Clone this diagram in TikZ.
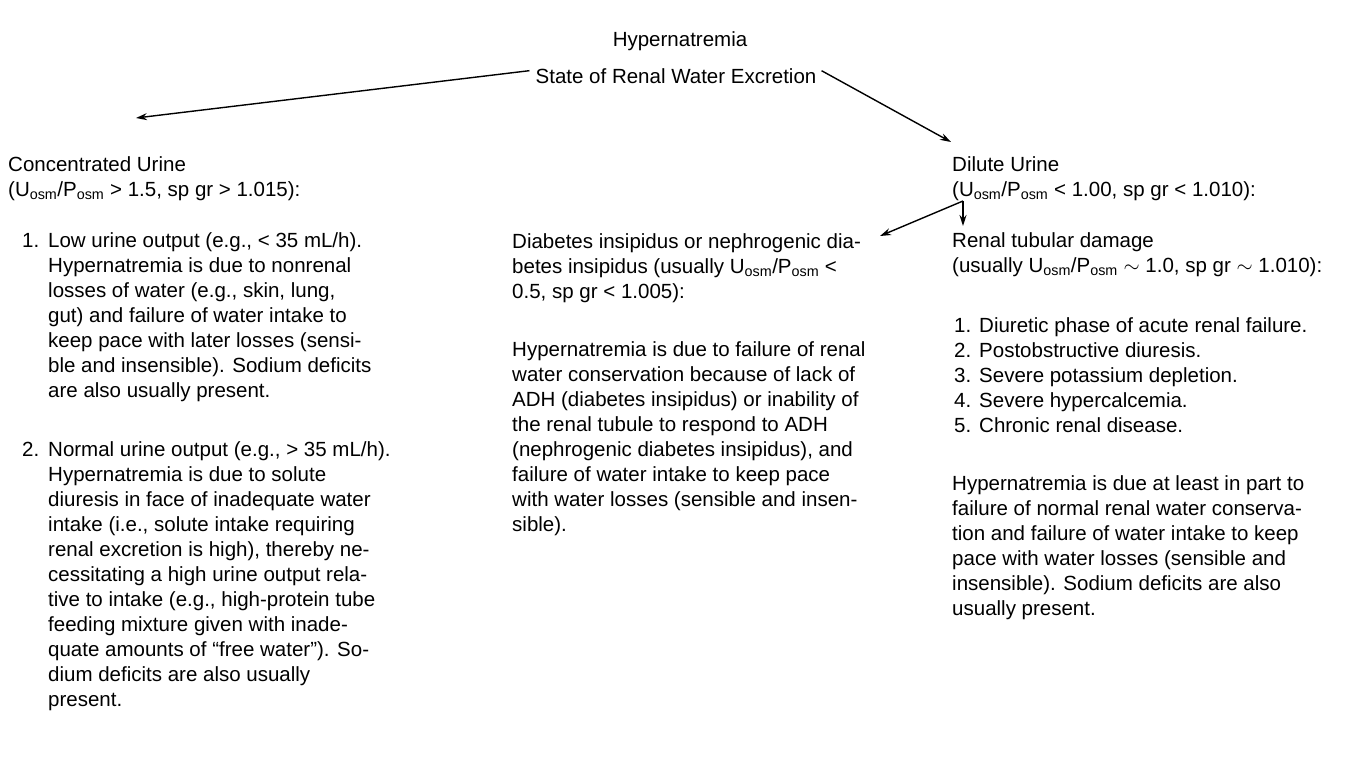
\documentclass[tikz,border=0pt]{standalone}
\usepackage{fontspec}
\setmainfont{Liberation Sans}
\usetikzlibrary{arrows.meta}
\newcommand{\UPosm}{U\textsubscript{osm}/P\textsubscript{osm}}
\begin{document}
\begin{tikzpicture}[x=1pt,y=-1pt,
  txt/.style={anchor=base west, inner sep=0pt, align=left, font=\fontsize{20.5}{25}\selectfont},
  ctr/.style={anchor=base, inner sep=0pt, font=\fontsize{20.5}{25}\selectfont},
  arr/.style={-{Stealth[length=11pt,width=7pt]}, line width=1.4pt}]
\useasboundingbox (0,0) rectangle (1365,760);
\fill[white] (0,0) rectangle (1365,760);

% (positions are the baseline of the LAST line of each block)
\node[ctr] (title) at (680,47) {Hypernatremia};
\node[ctr] (state) at (676,84) {State of Renal Water Excretion};

% left column
\node[txt] (conc) at (8,196) {Concentrated Urine\\(\UPosm{} > 1.5, sp gr > 1.015):};
\node[txt] (n1) at (22,247) {1.};
\node[txt] (low) at (48,397) {Low urine output (e.g., < 35 mL/h).\\Hypernatremia is due to nonrenal\\losses of water (e.g., skin, lung,\\gut) and failure of water intake to\\keep pace with later losses (sensi-\\ble and insensible). Sodium deficits\\are also usually present.};
\node[txt] (n2) at (22,456) {2.};
\node[txt] (norm) at (48,706) {Normal urine output (e.g., > 35 mL/h).\\Hypernatremia is due to solute\\diuresis in face of inadequate water\\intake (i.e., solute intake requiring\\renal excretion is high), thereby ne-\\cessitating a high urine output rela-\\tive to intake (e.g., high-protein tube\\feeding mixture given with inade-\\quate amounts of ``free water''). So-\\dium deficits are also usually\\present.};

% middle column
\node[txt] (di) at (512,298) {Diabetes insipidus or nephrogenic dia-\\betes insipidus (usually \UPosm{} <\\0.5, sp gr < 1.005):};
\node[txt] (ditext) at (512,531) {Hypernatremia is due to failure of renal\\water conservation because of lack of\\ADH (diabetes insipidus) or inability of\\the renal tubule to respond to ADH\\(nephrogenic diabetes insipidus), and\\failure of water intake to keep pace\\with water losses (sensible and insen-\\sible).};

% right column
\node[txt] (dil) at (952,196) {Dilute Urine\\(\UPosm{} < 1.00, sp gr < 1.010):};
\node[txt] (rtd) at (952,272) {Renal tubular damage\\(usually \UPosm{} $\sim$ 1.0, sp gr $\sim$ 1.010):};
\node[txt] (listnum) at (954,432) {1.\\2.\\3.\\4.\\5.};
\node[txt] (list) at (979,432) {Diuretic phase of acute renal failure.\\Postobstructive diuresis.\\Severe potassium depletion.\\Severe hypercalcemia.\\Chronic renal disease.};
\node[txt] (rtdtext) at (952,615) {Hypernatremia is due at least in part to\\failure of normal renal water conserva-\\tion and failure of water intake to keep\\pace with water losses (sensible and\\insensible). Sodium deficits are also\\usually present.};

\coordinate (concTip) at (136,118);
\coordinate (dilTip) at (951,142);
\coordinate (fork) at (963,201);
\coordinate (diTip) at (880,236);
\coordinate (rtdTip) at (963,226);

\draw[arr] (state.west) ++(-6,-6) -- (concTip);
\draw[arr] (state.east) ++(5,-6) -- (dilTip);
\draw[arr] (fork) -- (diTip);
\draw[arr] (fork) -- (rtdTip);
\end{tikzpicture}
\end{document}
